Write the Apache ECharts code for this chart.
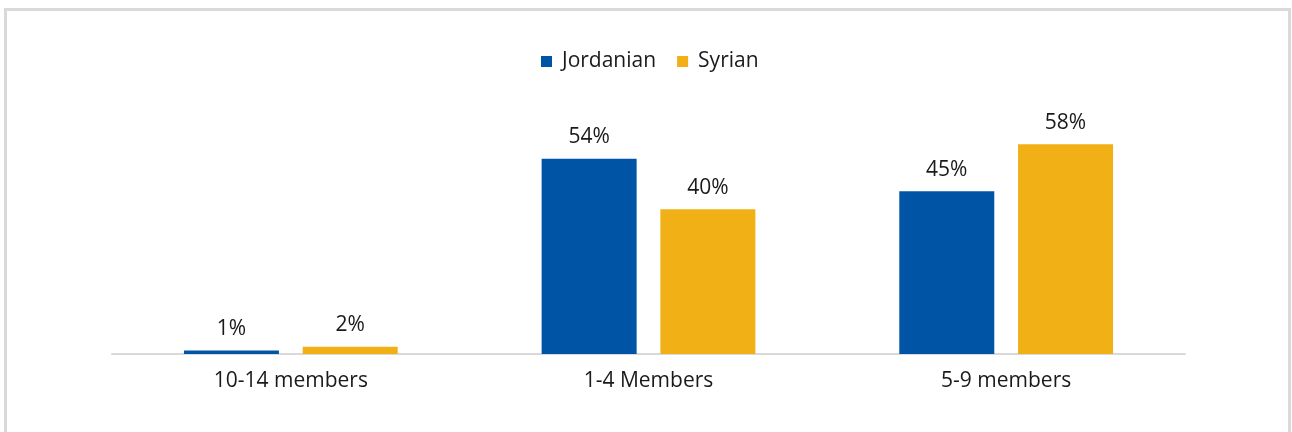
<!DOCTYPE html>
<html>
<head>
<meta charset="utf-8">
<script src="https://cdn.jsdelivr.net/npm/echarts@6/dist/echarts.min.js"></script>
<style>
  html, body { margin: 0; padding: 0; background: #ffffff; }
  #frame {
    position: absolute; left: 4px; top: 8px; width: 1287px; height: 440px;
    border: 3px solid #d9d9d9; box-sizing: border-box;
  }
  #chart { position: absolute; left: 0; top: 0; width: 1292px; height: 432px; }
</style>
</head>
<body>
<div id="frame"></div>
<div id="chart"></div>
<script>
// Household size shares by nationality
const categories = ['10-14 members', '1-4 Members', '5-9 members'];
const jordanian = [1, 54, 45];
const syrian = [2, 40, 58];

const FONT = '"Open Sans", "Noto Sans", sans-serif';
const TEXT = '#1a1a1a';

const chart = echarts.init(document.getElementById('chart'), null, { renderer: 'canvas' });

const barLabel = {
  show: true,
  position: 'top',
  distance: 11,
  formatter: p => p.value + '%',
  color: TEXT,
  fontFamily: FONT,
  fontSize: 21
};

chart.setOption({
  animation: false,
  backgroundColor: 'transparent',
  legend: {
    top: 51,
    left: 541,
    padding: 0,
    itemWidth: 11,
    itemHeight: 11,
    itemGap: 21,
    icon: 'rect',
    textStyle: { color: TEXT, fontFamily: FONT, fontSize: 21, padding: [0, 0, 0, 5] },
    data: ['Jordanian', 'Syrian']
  },
  grid: { left: 112, right: 107, top: 137, bottom: 78, containLabel: false },
  xAxis: {
    type: 'category',
    data: categories,
    axisLine: { lineStyle: { color: '#d9d9d9', width: 2 } },
    axisTick: { show: false },
    axisLabel: { color: TEXT, fontFamily: FONT, fontSize: 21, margin: 17 }
  },
  yAxis: {
    type: 'value',
    min: 0,
    max: 60,
    show: false,
    splitLine: { show: false }
  },
  series: [
    {
      name: 'Jordanian',
      type: 'bar',
      data: jordanian,
      barWidth: 95,
      barGap: '25%',
      itemStyle: { color: '#0054a6' },
      label: barLabel
    },
    {
      name: 'Syrian',
      type: 'bar',
      data: syrian,
      barWidth: 95,
      itemStyle: { color: '#f1b116' },
      label: barLabel
    }
  ]
});
</script>
</body>
</html>
